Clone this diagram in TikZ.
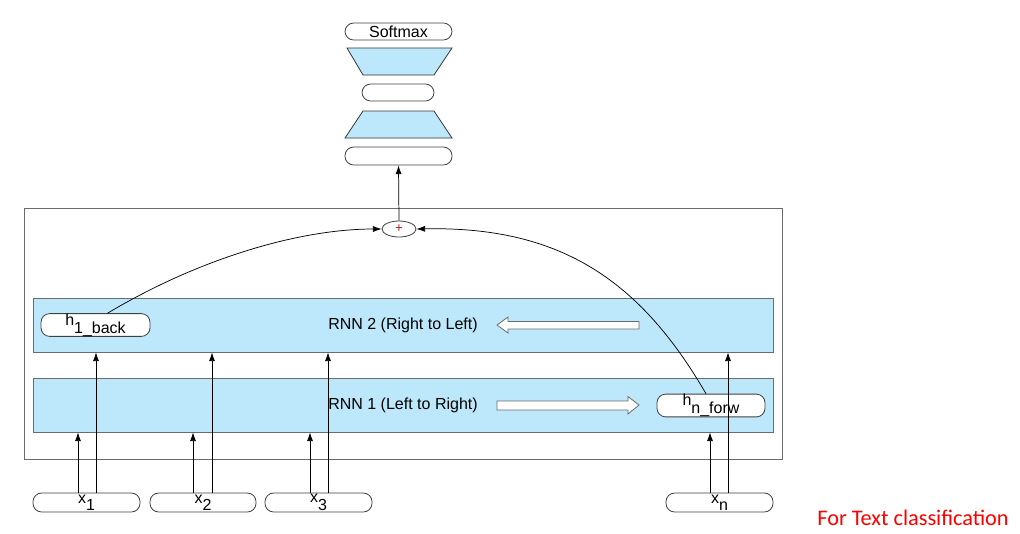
\documentclass[tikz,border=0pt]{standalone}
\usepackage{fontspec}
\setmainfont{Liberation Sans}
\newfontfamily\redfont{Carlito}
\usetikzlibrary{arrows.meta,shapes.geometric}
\definecolor{bandblue}{HTML}{BDE8FB}
\definecolor{edgegray}{HTML}{6B6B6B}
\definecolor{plusred}{HTML}{A0262A}
\begin{document}
\begin{tikzpicture}[x=0.75pt,y=-0.75pt,
  pill/.style={draw=black!75,line width=0.6pt,fill=white,rounded corners=6.5pt,inner sep=0pt,
    font=\fontsize{12pt}{13pt}\selectfont},
  band/.style={draw=edgegray,line width=0.6pt,fill=bandblue,inner sep=0pt},
  trap/.style={draw=black!80,line width=0.6pt,fill=bandblue},
  hollow/.style={draw=edgegray,line width=0.6pt,fill=white},
  arr/.style={line width=0.55pt,-{Latex[length=6.5pt,width=4.5pt]}},
  lbl/.style={font=\fontsize{12pt}{13pt}\selectfont,inner sep=0pt}]
\useasboundingbox (0,0) rectangle (1020,533);

% top stack
\node[pill,minimum width=107*0.75pt,minimum height=17*0.75pt] (softmax) at (398.5,31.5) {Softmax};
\draw[trap] (347,48) -- (452,48) -- (434,75) -- (363,75) -- cycle;
\node[pill,minimum width=72*0.75pt,minimum height=17*0.75pt] (mid) at (398,92.5) {};
\draw[trap] (363,111) -- (434,111) -- (452,138) -- (345,138) -- cycle;
\node[pill,minimum width=107*0.75pt,minimum height=18*0.75pt] (dense) at (398.5,156) {};

% outer frame
\node[draw=edgegray,line width=0.6pt,inner sep=0pt,minimum width=758*0.75pt,minimum height=251*0.75pt] (frame) at (403,333.5) {};

% bands
\node[band,minimum width=740*0.75pt,minimum height=54*0.75pt] (rnn2) at (403,325) {};
\node[band,minimum width=740*0.75pt,minimum height=54*0.75pt] (rnn1) at (403,405) {};
\node[lbl] (t2) at (403,325) {RNN 2 (Right to Left)};
\node[lbl] (t1) at (403,405) {RNN 1 (Left to Right)};

% hollow arrows
\draw[hollow] (497,325) -- (508,317) -- (508,321.5) -- (639,321.5) -- (639,329) -- (508,329) -- (508,333) -- cycle;
\draw[hollow] (639,405) -- (628,396.5) -- (628,401) -- (497,401) -- (497,410) -- (628,410) -- (628,414) -- cycle;

% hidden state pills
\node[pill,minimum width=109*0.75pt,minimum height=16*0.75pt] (hback) at (95.5,325)
  {\raisebox{2.5pt}{h}\raisebox{-3.5pt}{1\_back}};
\node[pill,minimum width=108*0.75pt,minimum height=17*0.75pt] (hforw) at (711,405.5)
  {\raisebox{2.5pt}{h}\raisebox{-3.5pt}{n\_forw}};

% plus
\node[draw=black!75,line width=0.6pt,fill=white,ellipse,inner sep=0pt,minimum width=34*0.75pt,minimum height=16*0.75pt,
  font=\fontsize{10pt}{11pt}\selectfont,text=plusred] (plus) at (399,229) {+};

% inputs
\node[pill,minimum width=107*0.75pt,minimum height=19*0.75pt] (x1) at (86.5,502.5) {x\raisebox{-5.5pt}{1}};
\node[pill,minimum width=106*0.75pt,minimum height=19*0.75pt] (x2) at (203,502.5) {x\raisebox{-5.5pt}{2}};
\node[pill,minimum width=107*0.75pt,minimum height=19*0.75pt] (x3) at (318.5,502.5) {x\raisebox{-5.5pt}{3}};
\node[pill,minimum width=107*0.75pt,minimum height=19*0.75pt] (xn) at (719.5,502.5) {x\raisebox{-5.5pt}{n}};

% input arrows
\foreach \n/\a/\b in {x1/-8.5/9.5, x2/-10/9, x3/-8.5/9.5, xn/-9.5/8.5} {
  \draw[arr] ([xshift=\a*0.75pt]\n.north) coordinate (s1) -- (s1 |- rnn1.south);
  \draw[arr] ([xshift=\b*0.75pt]\n.north) coordinate (s2) -- (s2 |- rnn2.south);
}

% to plus
\draw[arr] ([xshift=12*0.75pt]hback.north) .. controls (200,258) and (300,229) .. (plus.west);
\draw[arr] ([xshift=-5*0.75pt]hforw.north) .. controls (640,280) and (560,226) .. (plus.east);
\draw[arr] (plus.north) -- (dense.south);

% caption
\node[font=\redfont\fontsize{16.7pt}{18pt}\selectfont,text=red,inner sep=0pt] (cap) at (913,518) {For Text classification};
\end{tikzpicture}
\end{document}
